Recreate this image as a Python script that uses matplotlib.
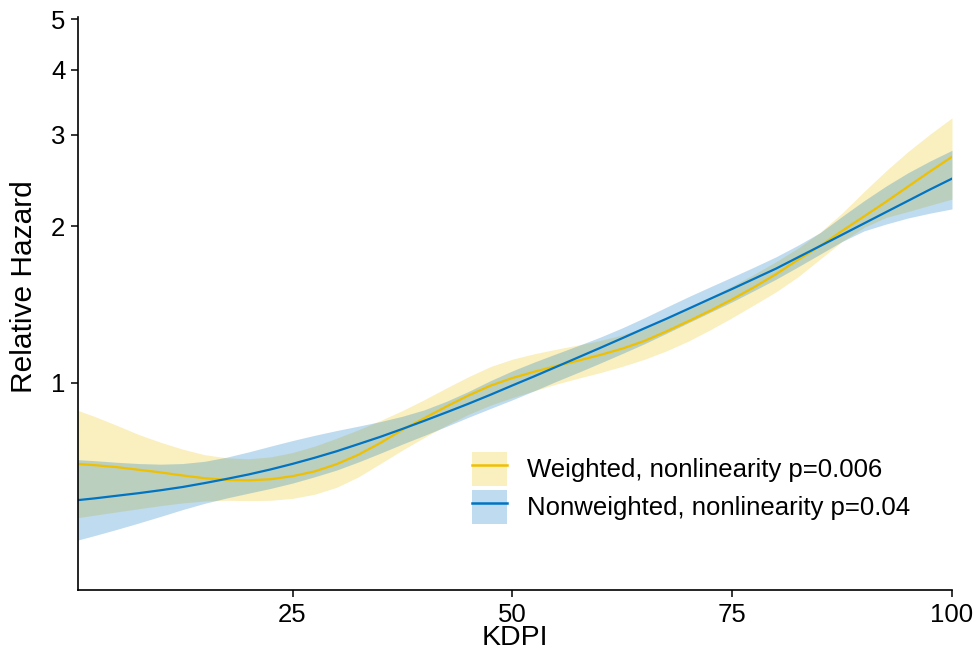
import matplotlib
matplotlib.use("Agg")
import matplotlib.pyplot as plt
from matplotlib.patches import Patch
from matplotlib.lines import Line2D
from matplotlib.ticker import FixedLocator, FixedFormatter, NullLocator

plt.rcParams['font.family'] = ['Liberation Sans', 'DejaVu Sans']

# KDPI grid and estimated relative hazard
kdpi = [0, 2.5, 5, 7.5, 10, 12.5, 15, 17.5, 20, 22.5, 25, 27.5, 30, 32.5, 35, 37.5,
        40, 42.5, 45, 47.5, 50, 52.5, 55, 57.5, 60, 62.5, 65, 67.5, 70, 72.5, 75,
        77.5, 80, 82.5, 85, 87.5, 90, 92.5, 95, 97.5, 100]

weighted_hr = [0.700, 0.695, 0.689, 0.681, 0.673, 0.664, 0.656, 0.651, 0.650, 0.653, 0.662,
               0.676, 0.698, 0.728, 0.767, 0.813, 0.856, 0.901, 0.946, 0.988, 1.022,
               1.051, 1.078, 1.104, 1.132, 1.164, 1.204, 1.256, 1.314, 1.377, 1.448,
               1.528, 1.619, 1.726, 1.833, 1.96, 2.09, 2.23, 2.385, 2.55, 2.72]
weighted_lo = [0.549, 0.557, 0.565, 0.573, 0.581, 0.588, 0.593, 0.595, 0.594, 0.595, 0.600,
               0.611, 0.630, 0.660, 0.700, 0.743, 0.786, 0.829, 0.870, 0.906, 0.937,
               0.966, 0.995, 1.021, 1.047, 1.076, 1.110, 1.152, 1.203, 1.265, 1.335,
               1.413, 1.497, 1.600, 1.730, 1.870, 1.990, 2.080, 2.135, 2.195, 2.256]
weighted_hi = [0.893, 0.862, 0.829, 0.796, 0.769, 0.746, 0.728, 0.718, 0.715, 0.721, 0.735,
               0.756, 0.783, 0.813, 0.847, 0.885, 0.929, 0.978, 1.028, 1.075, 1.111,
               1.138, 1.161, 1.183, 1.207, 1.237, 1.279, 1.332, 1.395, 1.462, 1.536,
               1.618, 1.711, 1.817, 1.948, 2.121, 2.333, 2.557, 2.784, 3.007, 3.232]

nonweighted_hr = [0.594, 0.600, 0.607, 0.614, 0.622, 0.631, 0.642, 0.654, 0.667, 0.682, 0.699,
                  0.718, 0.739, 0.763, 0.788, 0.816, 0.846, 0.878, 0.912, 0.949, 0.989,
                  1.030, 1.074, 1.120, 1.168, 1.219, 1.273, 1.328, 1.388, 1.451, 1.516,
                  1.586, 1.659, 1.744, 1.833, 1.927, 2.026, 2.130, 2.239, 2.354, 2.47]
nonweighted_lo = [0.496, 0.509, 0.523, 0.538, 0.554, 0.571, 0.587, 0.601, 0.614, 0.627, 0.642,
                  0.660, 0.680, 0.705, 0.733, 0.763, 0.793, 0.825, 0.859, 0.893, 0.928,
                  0.966, 1.007, 1.048, 1.092, 1.139, 1.189, 1.245, 1.305, 1.367, 1.432,
                  1.505, 1.583, 1.672, 1.768, 1.870, 1.960, 2.020, 2.075, 2.120, 2.160]
nonweighted_hi = [0.713, 0.709, 0.704, 0.700, 0.698, 0.700, 0.707, 0.720, 0.737, 0.756, 0.775,
                  0.793, 0.810, 0.826, 0.843, 0.863, 0.888, 0.922, 0.963, 1.010, 1.055,
                  1.097, 1.138, 1.180, 1.225, 1.276, 1.334, 1.398, 1.464, 1.530, 1.598,
                  1.670, 1.748, 1.840, 1.945, 2.090, 2.240, 2.390, 2.535, 2.670, 2.800]

labels = ['Weighted, nonlinearity p=0.006', 'Nonweighted, nonlinearity p=0.04']
yellow = '#EFC000'
blue = '#0073C2'
band_alpha = 0.25
fs = 18.5
title_fs = 20.5

fig = plt.figure(figsize=(9.74, 6.57), dpi=100)
ax = fig.add_axes([78 / 974, 67 / 657, 874 / 974, 573 / 657])

# confidence bands
ax.fill_between(kdpi, weighted_lo, weighted_hi, color=yellow, alpha=band_alpha, lw=0)
ax.fill_between(kdpi, nonweighted_lo, nonweighted_hi, color=blue, alpha=band_alpha, lw=0)

# fitted curves
ax.plot(kdpi, weighted_hr, color=yellow, lw=1.6)
ax.plot(kdpi, nonweighted_hr, color=blue, lw=1.6)

ax.set_yscale('log')
ax.set_ylim(0.4, 5.05)
ax.set_xlim(0.6, 100)

yt = [1, 2, 3, 4, 5]
ax.yaxis.set_major_locator(FixedLocator(yt))
ax.yaxis.set_major_formatter(FixedFormatter([str(v) for v in yt]))
ax.yaxis.set_minor_locator(NullLocator())
ax.set_xticks([25, 50, 75, 100])

for s in ['top', 'right']:
    ax.spines[s].set_visible(False)
for s in ['left', 'bottom']:
    ax.spines[s].set_linewidth(1.2)
ax.tick_params(axis='both', direction='out', length=5, width=1.1,
               labelsize=fs, colors='black', pad=4)

ax.set_xlabel('KDPI', fontsize=title_fs, labelpad=-1)
ax.set_ylabel('Relative Hazard', fontsize=21.5)
ax.yaxis.set_label_coords(-0.046, 0.529)

handles = [
    (Patch(facecolor=yellow, alpha=band_alpha, lw=0), Line2D([], [], color=yellow, lw=1.8)),
    (Patch(facecolor=blue, alpha=band_alpha, lw=0), Line2D([], [], color=blue, lw=1.8)),
]
ax.legend(handles, labels, loc='upper left',
          bbox_to_anchor=(472 / 974, 1 - 452 / 657), bbox_transform=fig.transFigure,
          frameon=False, fontsize=fs, handlelength=1.35, handleheight=1.66,
          handletextpad=0.8, labelspacing=0.15, borderpad=0, borderaxespad=0)

fig.savefig('out.png', dpi=100)
